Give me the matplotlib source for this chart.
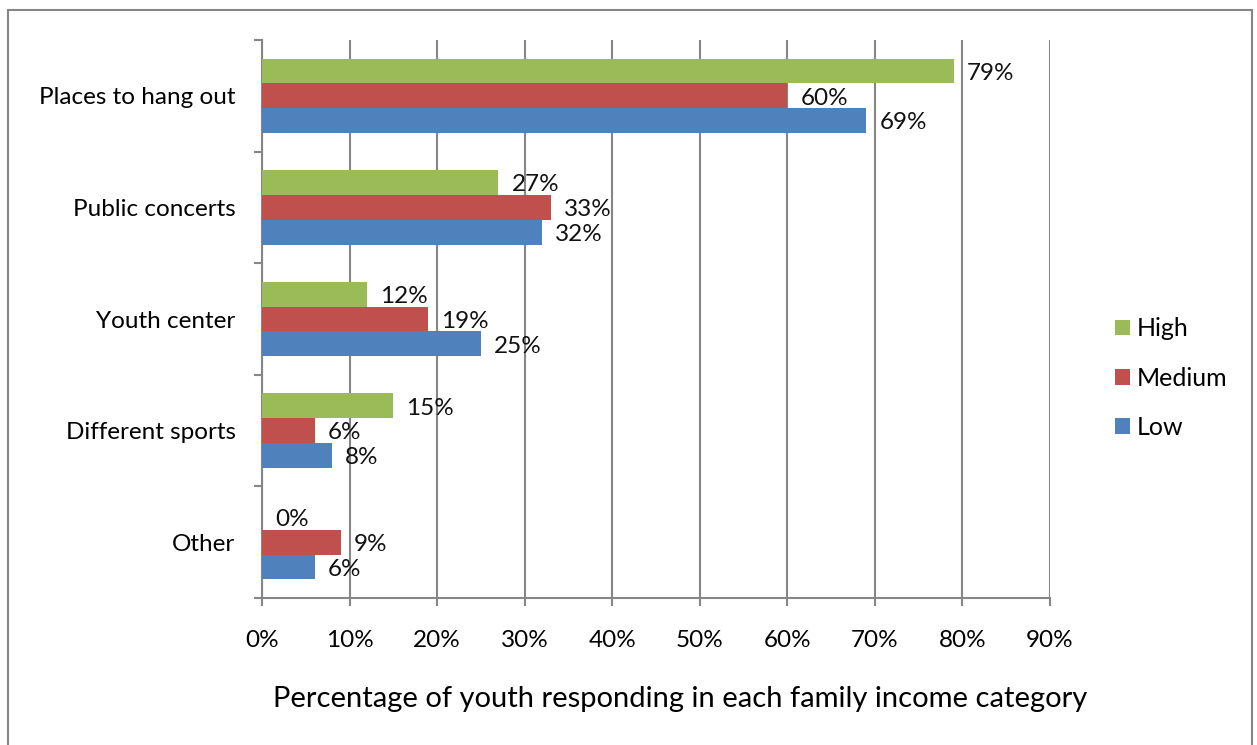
import numpy as np
import matplotlib.pyplot as plt
from matplotlib.patches import Rectangle

plt.rcParams['font.family'] = ['Lato', 'DejaVu Sans']

categories = ['Places to hang out', 'Public concerts', 'Youth center', 'Different sports', 'Other']
high = [79, 27, 12, 15, 0]
medium = [60, 33, 19, 6, 9]
low = [69, 32, 25, 8, 6]

series = [('High', high, '#9BBB59'), ('Medium', medium, '#C0504D'), ('Low', low, '#4F81BD')]

grid_col = '#868686'
bar_h = 0.222
fs = 17.5

fig = plt.figure(figsize=(12.57, 7.45), dpi=100)
ax = fig.add_axes([262 / 1257, 1 - 598 / 745, 788 / 1257, 558 / 745])

# chart frame
fig.patches.append(Rectangle((8 / 1257, -0.05), 1244 / 1257, 1 - 10 / 745 + 0.05,
                             transform=fig.transFigure, fill=False,
                             edgecolor=grid_col, linewidth=1.5))

y = np.arange(len(categories))
offsets = [-bar_h, 0, bar_h]
for (name, vals, col), off in zip(series, offsets):
    bars = ax.barh(y + off, vals, height=bar_h, color=col, label=name, zorder=3)
    for b, v in zip(bars, vals):
        ax.text(v + 1.5, b.get_y() + b.get_height() / 2 + 0.02, f'{v}%',
                va='center', ha='left', fontsize=fs, color='#111111', zorder=4)

ax.set_xlim(0, 90)
ax.set_ylim(len(categories) - 0.5, -0.5)
ax.set_xticks(np.arange(0, 91, 10))
ax.set_xticklabels([f'{t}%' for t in range(0, 91, 10)])
ax.set_yticks(y)
ax.set_yticklabels(categories)
ax.set_yticks(np.arange(-0.5, len(categories)), minor=True)

ax.xaxis.grid(True, color=grid_col, linewidth=1.5, zorder=0)
for s in ['top', 'right']:
    ax.spines[s].set_visible(False)
for s in ['left', 'bottom']:
    ax.spines[s].set_color(grid_col)
    ax.spines[s].set_linewidth(1.5)
ax.spines['left'].set_bounds(len(categories) - 0.5, -0.5)

ax.tick_params(axis='x', length=6, width=1.5, color=grid_col, pad=17, labelsize=fs)
ax.tick_params(axis='y', which='major', length=0, pad=19, labelsize=fs)
ax.tick_params(axis='y', which='minor', length=6, width=1.5, color=grid_col)

ax.set_xlabel('Percentage of youth responding in each family income category',
              fontsize=21, labelpad=25)
ax.xaxis.label.set_x(0.53)

ax.legend(loc='center left', bbox_to_anchor=(1092 / 1257, 1 - 378 / 745),
          bbox_transform=fig.transFigure, frameon=False, fontsize=18,
          handlelength=0.6, handleheight=0.6, handletextpad=0.3, labelspacing=1.05)

fig.savefig('out.png', dpi=100, facecolor='white')
